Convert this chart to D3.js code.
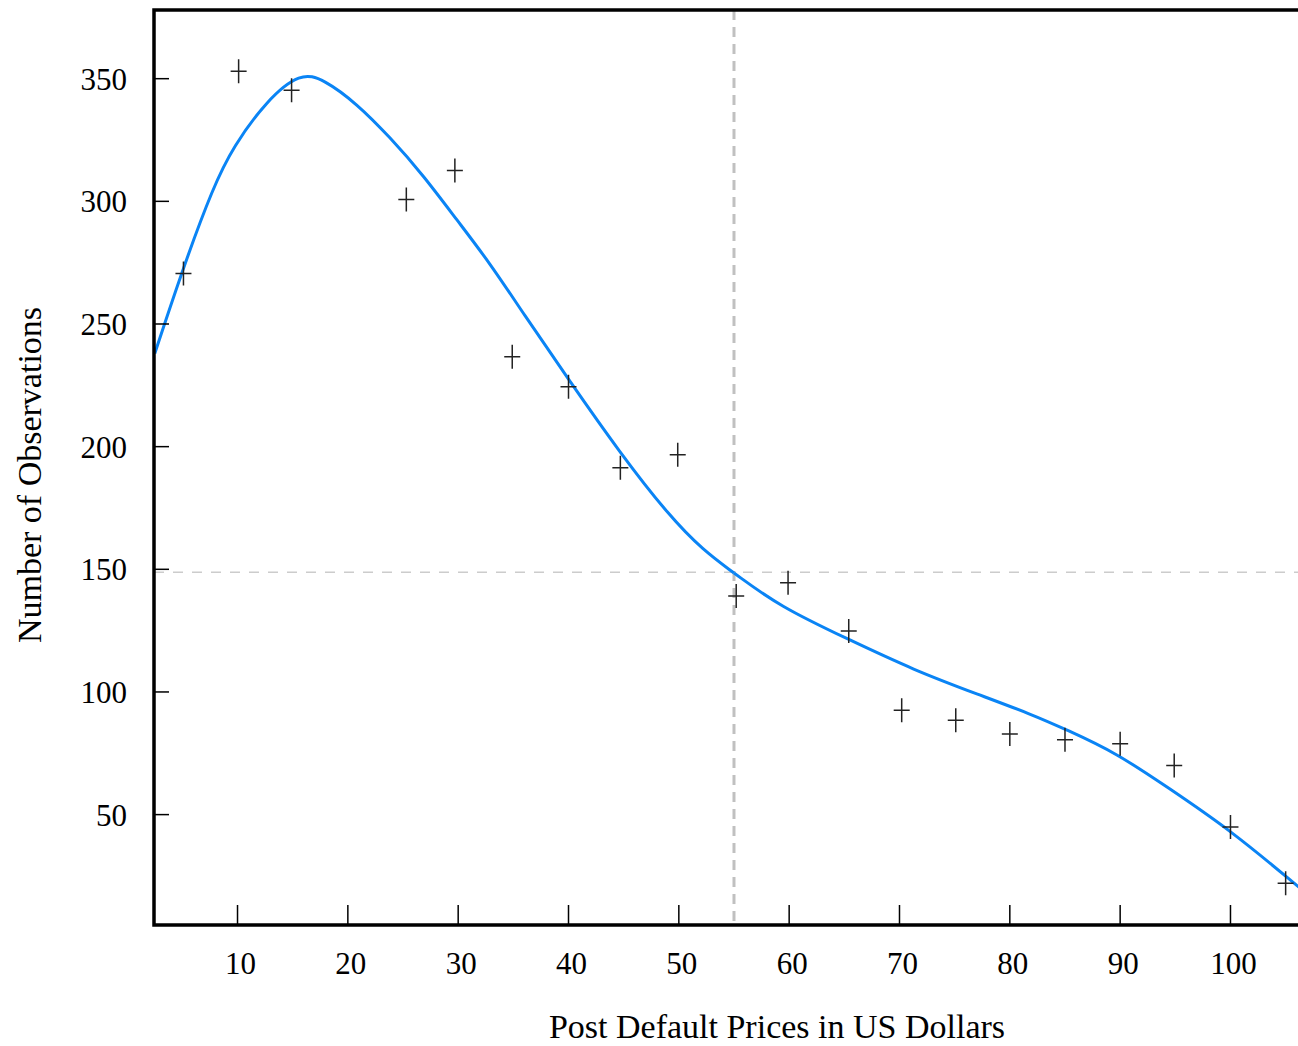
<!DOCTYPE html>
<html>
<head>
<meta charset="utf-8">
<script src="https://cdn.jsdelivr.net/npm/d3@7"></script>
<style>
  body { margin: 0; background: #fff; }
  text { font-family: "Liberation Serif", "DejaVu Serif", serif; fill: #000; }
</style>
</head>
<body>
<div id="app"></div>
<script>
// observed counts per price bucket
const obsPrice = [5.1, 10.1, 14.9, 25.3, 29.7, 34.9, 40.0, 44.7, 49.9, 55.2, 59.9, 65.4, 70.2, 75.1, 80.0, 85.0, 90.0, 94.9, 100.0, 105.0];
const obsCount = [270.6, 353, 345.3, 300.8, 312.6, 236.6, 224.4, 191.4, 196.7, 139.1, 144.5, 124.8, 92.5, 88.5, 82.9, 80.5, 78.9, 70, 45, 22];

// fitted curve
const fitPrice = [2.5, 5.1, 7.8, 9.6, 12.65, 15.7, 17.8, 20.8, 23.8, 26.85, 29.9, 32.9, 35.9, 39.85, 44.7, 49.2, 52.2, 55.0, 59.2, 65.2, 71.3, 77.3, 81.9, 85.2, 89.7, 94.2, 100.0, 106.2];
const fitCount = [238, 273.3, 305.9, 322.2, 341.2, 352.6, 349.8, 339.9, 326.2, 310.6, 292.3, 274.7, 254.3, 228.4, 197.2, 171.4, 157.8, 148.5, 134.7, 121.8, 108.9, 98.7, 91.0, 84.5, 75.0, 61.4, 43.7, 20.4];

const xTicks = [10, 20, 30, 40, 50, 60, 70, 80, 90, 100];
const yTicks = [50, 100, 150, 200, 250, 300, 350];

const breakPrice = 55;
const breakCount = 148.8;

const xLabel = "Post Default Prices in US Dollars";
const yLabel = "Number of Observations";

const W = 1298, H = 1046;
const margin = { top: 10, right: 0, bottom: 121, left: 154 };
const width = W - margin.left - margin.right;
const height = H - margin.top - margin.bottom;

const svg = d3.select("#app").append("svg")
    .attr("width", W)
    .attr("height", H);

const g = svg.append("g")
    .attr("transform", `translate(${margin.left},${margin.top})`);

const x = d3.scaleLinear().domain([2.43, 106.12]).range([0, width]);
const y = d3.scaleLinear().domain([5, 378]).range([height, 0]);

svg.append("defs").append("clipPath").attr("id", "clip")
  .append("rect").attr("width", width).attr("height", height);

// reference lines
g.append("line")
    .attr("x1", 0).attr("x2", width)
    .attr("y1", y(breakCount)).attr("y2", y(breakCount))
    .attr("stroke", "#cccccc")
    .attr("stroke-width", 1.5)
    .attr("stroke-dasharray", "10,9");

g.append("line")
    .attr("x1", x(breakPrice)).attr("x2", x(breakPrice))
    .attr("y1", 0).attr("y2", height)
    .attr("stroke", "#c0c0c0")
    .attr("stroke-width", 3)
    .attr("stroke-dasharray", "10,7");

// fitted curve, in two pieces so the bend at the break stays
const fit = fitPrice.map((p, i) => ({ p: p, c: fitCount[i] }));
const line = d3.line()
    .x(d => x(d.p))
    .y(d => y(d.c))
    .curve(d3.curveBasis);

const curveG = g.append("g").attr("clip-path", "url(#clip)");
[fit.filter(d => d.p <= breakPrice), fit.filter(d => d.p >= breakPrice)].forEach(seg => {
    curveG.append("path")
        .datum(seg)
        .attr("d", line)
        .attr("fill", "none")
        .attr("stroke", "#0a84f5")
        .attr("stroke-width", 3);
});

// plus markers
const obs = obsPrice.map((p, i) => ({ p: p, c: obsCount[i] }));
g.selectAll(".obs")
    .data(obs)
    .join("path")
        .attr("class", "obs")
        .attr("d", d => `M${x(d.p) - 8},${y(d.c)}h16M${x(d.p)},${y(d.c) - 12}v24`)
        .attr("stroke", "#222")
        .attr("stroke-width", 1.5)
        .attr("fill", "none");

// frame
g.append("path")
    .attr("d", `M${width + 5},0H0V${height}H${width + 5}`)
    .attr("fill", "none")
    .attr("stroke", "#000")
    .attr("stroke-width", 3.5);

// ticks (inside)
g.selectAll(".xtick")
    .data(xTicks)
    .join("line")
        .attr("x1", d => x(d)).attr("x2", d => x(d))
        .attr("y1", height).attr("y2", height - 20)
        .attr("stroke", "#000").attr("stroke-width", 1.5);

g.selectAll(".xlab")
    .data(xTicks)
    .join("text")
        .attr("x", d => x(d) + 3)
        .attr("y", height + 49)
        .attr("text-anchor", "middle")
        .attr("font-size", 31)
        .text(d => d);

g.selectAll(".ytick")
    .data(yTicks)
    .join("line")
        .attr("x1", 0).attr("x2", 15)
        .attr("y1", d => y(d)).attr("y2", d => y(d))
        .attr("stroke", "#000").attr("stroke-width", 1.5);

g.selectAll(".ylab")
    .data(yTicks)
    .join("text")
        .attr("x", -27)
        .attr("y", d => y(d) + 11)
        .attr("text-anchor", "end")
        .attr("font-size", 31)
        .text(d => d);

// axis titles
svg.append("text")
    .attr("x", 777)
    .attr("y", 1038)
    .attr("text-anchor", "middle")
    .attr("font-size", 34)
    .text(xLabel);

svg.append("text")
    .attr("transform", "translate(41,475) rotate(-90)")
    .attr("text-anchor", "middle")
    .attr("font-size", 34)
    .text(yLabel);
</script>
</body>
</html>
